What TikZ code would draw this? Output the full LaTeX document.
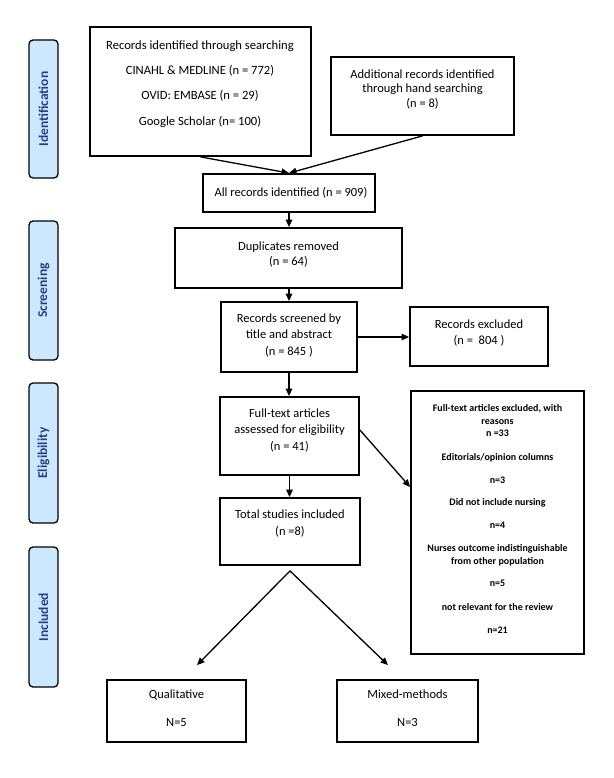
\documentclass[tikz,border=0pt]{standalone}
\usepackage{fontspec}
\setmainfont{Carlito}
\usetikzlibrary{arrows.meta,calc}
\definecolor{phasefill}{RGB}{204,232,255}
\definecolor{phasetext}{RGB}{36,64,130}
\begin{document}
\begin{tikzpicture}[x=1pt,y=-1pt,
  box/.style={draw, line width=1.8pt, inner sep=0pt},
  txt/.style={align=center, inner sep=0pt},
  phase/.style={draw, line width=1.3pt, rounded corners=4pt, fill=phasefill, inner sep=0pt,
                rotate=90, minimum height=29pt, text=phasetext,
                font=\fontsize{13.5}{15}\selectfont\bfseries},
  arr/.style={line width=1.3pt, -{Triangle[length=7.5pt,width=6.5pt]}}]
\fill[white] (0,0) rectangle (613,778);
\useasboundingbox (0,0) rectangle (613,778);

% phase labels
\node[phase, minimum width=138pt] (pid) at (43.5,109) {Identification};
\node[phase, minimum width=139pt] (pscr) at (43.5,290.5) {Screening};
\node[phase, minimum width=140pt] (peli) at (43.5,453) {Eligibility};
\node[phase, minimum width=140pt] (pinc) at (43.5,617) {Included};

% boxes
\node[box, minimum width=221pt, minimum height=129pt] (src) at (200.5,91.5) {};
\node[box, minimum width=183pt, minimum height=78pt] (add) at (422.5,96) {};
\node[box, minimum width=172pt, minimum height=38pt] (all) at (289,193) {};
\node[box, minimum width=227pt, minimum height=60pt] (dup) at (288.5,258) {};
\node[box, minimum width=136pt, minimum height=70pt] (scr) at (289,337) {};
\node[box, minimum width=138pt, minimum height=59pt] (exc) at (479,336.5) {};
\node[box, minimum width=139pt, minimum height=78pt] (full) at (289.5,436) {};
\node[box, minimum width=173pt, minimum height=263pt] (rea) at (497.5,522.5) {};
\node[box, minimum width=140pt, minimum height=67pt] (tot) at (290,531.5) {};
\node[box, minimum width=139pt, minimum height=62pt] (qual) at (176.5,711) {};
\node[box, minimum width=141pt, minimum height=62pt] (mix) at (407.5,711) {};

% texts
\node[txt, font=\fontsize{12.6}{25.3}\selectfont] (srcT) at (200,84)
  {Records identified through searching\\CINAHL \& MEDLINE (n = 772)\\OVID: EMBASE (n = 29)\\Google Scholar (n= 100)};
\node[txt, font=\fontsize{12.5}{14.5}\selectfont] (addT) at (422.5,89.5)
  {Additional records identified\\through hand searching\\(n = 8)};
\node[txt, font=\fontsize{12.5}{15}\selectfont] (allT) at (291,193) {All records identified (n = 909)};
\node[txt, font=\fontsize{12.5}{15}\selectfont] (dupT) at (288.5,254.5) {Duplicates removed\\(n = 64)};
\node[txt, font=\fontsize{12.5}{16.5}\selectfont] (scrT) at (289,335.5) {Records screened by\\title and abstract\\(n = 845 )};
\node[txt, font=\fontsize{12.5}{16}\selectfont] (excT) at (479,333.5) {Records excluded\\(n =\ \ 804 )};
\node[txt, font=\fontsize{12.5}{16.5}\selectfont] (fullT) at (289.5,430.5) {Full-text articles\\assessed for eligibility\\(n = 41)};
\node[txt, font=\fontsize{12.5}{17}\selectfont] (totT) at (290,523.5) {Total studies included\\(n =8)};
\node[txt, font=\fontsize{12.5}{16}\selectfont] (qualT) at (176.5,708) {Qualitative\\[12pt]N=5};
\node[txt, font=\fontsize{12.5}{16}\selectfont] (mixT) at (407.5,708) {Mixed-methods\\[12pt]N=3};
\node[txt, font=\fontsize{10}{13}\selectfont\bfseries] (reaT) at (497.5,518.5)
  {Full-text articles excluded, with\\reasons\\[-1pt]n =33\\[11pt]Editorials/opinion columns\\[10pt]n=3\\[9pt]Did not include nursing\\[10pt]n=4\\[10pt]Nurses outcome indistinguishable\\from other population\\[9pt]n=5\\[11pt]not relevant for the review\\[10pt]n=21};

% connectors
\draw[arr] (src.south) -- (all.north);
\draw[arr] (add.south) -- (all.north);
\draw[arr] (all.south) -- (all.south |- dup.north);
\draw[arr] (scr.north |- dup.south) -- (scr.north);
\draw[arr] (scr.east) -- (scr.east -| exc.west);
\draw[arr] (scr.south) -- (scr.south |- full.north);
\draw[arr] ([yshift=6pt]full.east) -- ([yshift=35.5pt]rea.west);
\draw[arr] (full.south) -- (full.south |- tot.north);
\coordinate (apex) at ([yshift=-5pt]tot.south);
\draw[arr] (apex) -- ([xshift=20.5pt,yshift=14pt]qual.north);
\draw[arr] (apex) -- ([xshift=-19.5pt,yshift=14pt]mix.north);
\end{tikzpicture}
\end{document}
